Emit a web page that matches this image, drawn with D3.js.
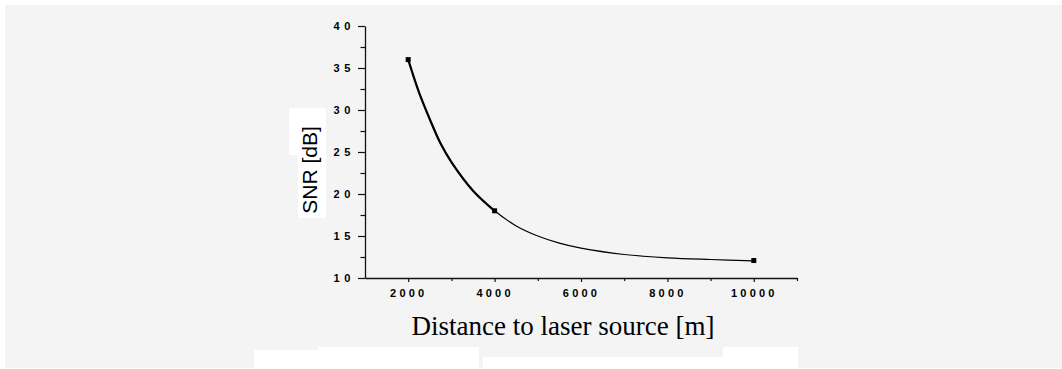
<!DOCTYPE html>
<html>
<head>
<meta charset="utf-8">
<script src="https://cdn.jsdelivr.net/npm/d3@7/dist/d3.min.js"></script>
<style>
  html, body { margin: 0; padding: 0; background: #ffffff; }
  svg { display: block; }
</style>
</head>
<body>
<svg id="chart" width="1062" height="369"></svg>
<script>
// ---- data ----
const distances = [2000, 2250, 2500, 2750, 3000, 3500, 4000, 4500, 5000, 5500, 6000, 7000, 8000, 9000, 10000];
const snrValues = [36.0, 32.1, 28.9, 26.0, 23.8, 20.4, 18.0, 16.2, 15.0, 14.15, 13.55, 12.8, 12.4, 12.2, 12.05];
const markerDistances = [2000, 4000, 10000];
const markerSnr = [36.0, 18.0, 12.08];
const xTickValues = [2000, 4000, 6000, 8000, 10000];
const xTickLabels = ["2000", "4000", "6000", "8000", "10000"];
const xMinorTicks = [3000, 5000, 7000, 9000, 11000];
const yTickValues = [10, 15, 20, 25, 30, 35, 40];
const yTickLabels = ["10", "15", "20", "25", "30", "35", "40"];
const yMinorTicks = [12.5, 17.5, 22.5, 27.5, 32.5, 37.5];
const xTitle = "Distance to laser source [m]";
const yTitle = "SNR [dB]";

const svg = d3.select("#chart");

// background panel and the white patches of the original picture
svg.append("rect").attr("x", 5).attr("y", 5).attr("width", 1057).attr("height", 363).attr("fill", "#f4f4f4");
const patches = [
  [289, 108, 37, 47], [298, 155, 28, 63],
  [254, 350, 64, 19], [318, 347, 161, 22], [483, 357, 240, 12], [723, 347, 75, 22]
];
svg.selectAll("rect.patch").data(patches).enter().append("rect")
  .attr("class", "patch")
  .attr("x", d => d[0]).attr("y", d => d[1]).attr("width", d => d[2]).attr("height", d => d[3])
  .attr("fill", "#ffffff");

const x = d3.scaleLinear().domain([1000, 11000]).range([365, 797]);
const y = d3.scaleLinear().domain([10, 40]).range([278, 26]);

// axes
const axisColor = "#111";
const g = svg.append("g");

// x axis
g.append("g").attr("transform", "translate(0,278)")
  .call(d3.axisBottom(x).tickValues(xTickValues).tickFormat((d, i) => xTickLabels[i]).tickSize(4).tickSizeOuter(0))
  .call(a => {
    a.select(".domain").attr("stroke", axisColor).attr("stroke-width", 1.3);
    a.selectAll(".tick line").attr("stroke", axisColor).attr("stroke-width", 1.2);
    a.selectAll(".tick text").attr("y", 19).attr("dy", 0)
      .attr("font-family", "Liberation Sans, Arial, sans-serif").attr("font-size", 11)
      .attr("font-weight", "bold").attr("letter-spacing", 3.2).attr("fill", "#000");
  });
g.append("g").attr("transform", "translate(0,278)")
  .call(d3.axisBottom(x).tickValues(xMinorTicks).tickFormat("").tickSize(3).tickSizeOuter(0))
  .call(a => {
    a.select(".domain").remove();
    a.selectAll(".tick line").attr("stroke", axisColor).attr("stroke-width", 1.2);
  });

// y axis
g.append("g").attr("transform", "translate(365,0)")
  .call(d3.axisLeft(y).tickValues(yTickValues).tickFormat((d, i) => yTickLabels[i]).tickSize(7).tickSizeOuter(0))
  .call(a => {
    a.select(".domain").attr("stroke", axisColor).attr("stroke-width", 1.3);
    a.selectAll(".tick line").attr("stroke", axisColor).attr("stroke-width", 1.2);
    a.selectAll(".tick text").attr("x", -10).attr("dy", "0.35em")
      .attr("font-family", "Liberation Sans, Arial, sans-serif").attr("font-size", 11)
      .attr("font-weight", "bold").attr("letter-spacing", 4.6).attr("fill", "#000");
  });
g.append("g").attr("transform", "translate(365,0)")
  .call(d3.axisLeft(y).tickValues(yMinorTicks).tickFormat("").tickSize(4.5).tickSizeOuter(0))
  .call(a => {
    a.select(".domain").remove();
    a.selectAll(".tick line").attr("stroke", axisColor).attr("stroke-width", 1.2);
  });

// curve: thick part up to 4000, thinner afterwards
const pts = distances.map((d, i) => [d, snrValues[i]]);
const line = d3.line().x(d => x(d[0])).y(d => y(d[1])).curve(d3.curveCatmullRom.alpha(0.5));
svg.append("path").attr("d", line(pts)).attr("fill", "none").attr("stroke", "#000").attr("stroke-width", 1.2);
svg.append("path").attr("d", line(pts.filter(p => p[0] <= 4000)))
  .attr("fill", "none").attr("stroke", "#000").attr("stroke-width", 2.2);

// markers
svg.selectAll("rect.marker").data(markerDistances.map((d, i) => [d, markerSnr[i]])).enter().append("rect")
  .attr("class", "marker")
  .attr("x", d => x(d[0]) - 2.5).attr("y", d => y(d[1]) - 2.5)
  .attr("width", 5).attr("height", 5).attr("fill", "#000");

// titles
svg.append("text").attr("x", 563).attr("y", 335).attr("text-anchor", "middle")
  .attr("font-family", "Liberation Serif, Times New Roman, serif").attr("font-size", 27)
  .attr("fill", "#000").text(xTitle);
svg.append("text").attr("transform", "translate(317,170) rotate(-90)").attr("text-anchor", "middle")
  .attr("font-family", "Liberation Sans, Arial, sans-serif").attr("font-size", 21)
  .attr("fill", "#000").text(yTitle);
</script>
</body>
</html>
